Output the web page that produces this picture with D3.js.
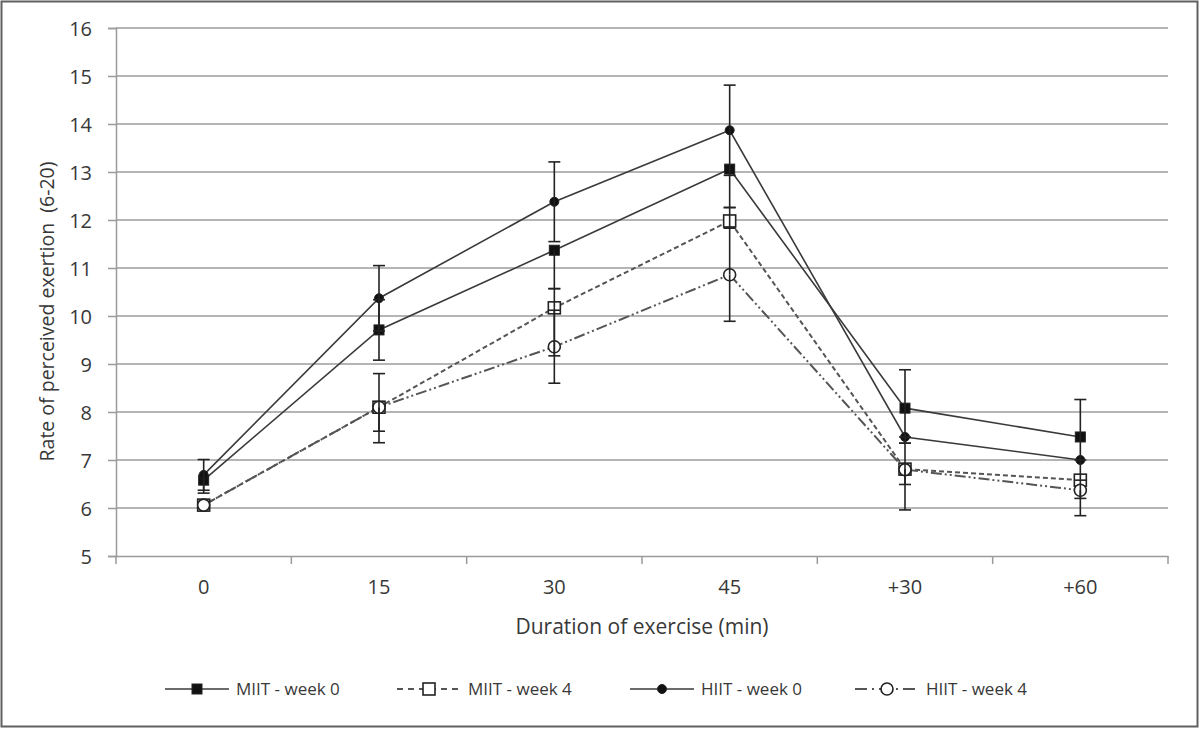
<!DOCTYPE html>
<html>
<head>
<meta charset="utf-8">
<script src="https://cdn.jsdelivr.net/npm/d3@7"></script>
<style>
  html, body { margin: 0; padding: 0; background: #fff; }
  svg { display: block; }
  text { font-family: "Open Sans", "Liberation Sans", sans-serif; fill: #383838; }
</style>
</head>
<body>
<svg id="chart" width="1200" height="729"></svg>
<script>
// ---- data ----
const categories = ["0", "15", "30", "45", "+30", "+60"];
const yTicks = [5, 6, 7, 8, 9, 10, 11, 12, 13, 14, 15, 16];
const seriesNames = ["MIIT - week 0", "MIIT - week 4", "HIIT - week 0", "HIIT - week 4"];

const miitW0 = [6.58, 9.71, 11.37, 13.06, 8.08, 7.48];
const miitW0Up = [0, 0.63, 0, 0, 0.8, 0.78];
const miitW0Down = [0.27, 0.63, 0.8, 0.8, 0.6, 0.48];

const miitW4 = [6.06, 8.1, 10.17, 11.98, 6.81, 6.58];
const miitW4Up = [0, 0, 0.4, 0.28, 0, 0];
const miitW4Down = [0, 0.5, 1.0, 0.15, 0.32, 0.38];

const hiitW0 = [6.69, 10.37, 12.38, 13.87, 7.48, 7.0];
const hiitW0Up = [0.32, 0.68, 0.83, 0.94, 0, 0];
const hiitW0Down = [0.32, 0.68, 0.83, 0.94, 0.13, 0.42];

const hiitW4 = [6.06, 8.1, 9.36, 10.86, 6.8, 6.37];
const hiitW4Up = [0, 0.7, 0.76, 0.97, 0.55, 0];
const hiitW4Down = [0, 0.74, 0.76, 0.97, 0.84, 0.53];

const series = [
  { name: seriesNames[0], values: miitW0, up: miitW0Up, down: miitW0Down, dash: null, legendDash: null, marker: "square", filled: true, color: "#3a3a3a", width: 1.6 },
  { name: seriesNames[1], values: miitW4, up: miitW4Up, down: miitW4Down, dash: "5,3", legendDash: "6,5", marker: "square", filled: false, color: "#555", width: 2 },
  { name: seriesNames[2], values: hiitW0, up: hiitW0Up, down: hiitW0Down, dash: null, legendDash: null, marker: "circle", filled: true, color: "#3a3a3a", width: 1.6 },
  { name: seriesNames[3], values: hiitW4, up: hiitW4Up, down: hiitW4Down, dash: "11,3,2,3,2,3", legendDash: "12,5,2,5", marker: "circle", filled: false, color: "#555", width: 2 }
];

// ---- layout ----
const svg = d3.select("#chart");
const plot = { left: 116, right: 1168, top: 28, bottom: 556 };

svg.append("rect").attr("x", 1.5).attr("y", 1.5).attr("width", 1196).attr("height", 725)
  .attr("fill", "#fff").attr("stroke", "#606060").attr("stroke-width", 2);

const x = d3.scaleBand().domain(categories).range([plot.left, plot.right]).paddingInner(0).paddingOuter(0);
const cx = c => x(c) + x.bandwidth() / 2;
const y = d3.scaleLinear().domain([5, 16]).range([plot.bottom, plot.top]);

// gridlines
svg.append("g").selectAll("line").data(yTicks.filter(t => t > 5)).join("line")
  .attr("x1", plot.left).attr("x2", plot.right)
  .attr("y1", d => y(d)).attr("y2", d => y(d))
  .attr("stroke", "#b5b5b5").attr("stroke-width", 1.8);

// y axis
const yAxis = d3.axisLeft(y).tickValues(yTicks).tickSize(8).tickPadding(16).tickFormat(d3.format("d"));
const gy = svg.append("g").attr("transform", `translate(${plot.left},0)`).call(yAxis);
gy.select(".domain").attr("stroke", "#9a9a9a").attr("stroke-width", 1.5);
gy.selectAll(".tick line").attr("stroke", "#9a9a9a").attr("stroke-width", 1.5);
gy.selectAll(".tick text").style("font-size", "20px").attr("fill", "#383838").attr("dy", "0.35em");

// x axis
const xAxis = d3.axisBottom(x).tickSize(0).tickPadding(24);
const gx = svg.append("g").attr("transform", `translate(0,${plot.bottom})`).call(xAxis);
gx.select(".domain").attr("stroke", "#9a9a9a").attr("stroke-width", 1.5);
gx.selectAll(".tick text").style("font-size", "20px").attr("fill", "#383838");
// boundary tick marks
const bounds = categories.map(c => x(c)).concat([plot.right]);
svg.append("g").selectAll("line").data(bounds).join("line")
  .attr("x1", d => d).attr("x2", d => d)
  .attr("y1", plot.bottom).attr("y2", plot.bottom + 8)
  .attr("stroke", "#9a9a9a").attr("stroke-width", 1.5);

// axis titles
svg.append("text").attr("x", 642).attr("y", 634)
  .attr("text-anchor", "middle").style("font-size", "21px").text("Duration of exercise (min)");
svg.append("text").attr("transform", `translate(54,${(163 + 460) / 2}) rotate(-90)`)
  .attr("text-anchor", "middle").style("font-size", "19.5px").style("white-space", "pre")
  .text("Rate of perceived exertion  (6-20)");

// lines
const line = d3.line().x((d, i) => cx(categories[i])).y(d => y(d));
series.forEach(s => {
  svg.append("path").datum(s.values).attr("d", line)
    .attr("fill", "none").attr("stroke", s.color).attr("stroke-width", s.width)
    .attr("stroke-dasharray", s.dash);
});

function drawMarker(g, s, px, py) {
  if (s.marker === "square") {
    const sz = s.filled ? 10 : 12;
    g.append("rect").attr("x", px - sz / 2).attr("y", py - sz / 2).attr("width", sz).attr("height", sz)
      .attr("fill", s.filled ? "#111" : "#fff").attr("stroke", "#222").attr("stroke-width", s.filled ? 1 : 1.6);
  } else {
    const r = s.filled ? 4.5 : 6;
    g.append("circle").attr("cx", px).attr("cy", py).attr("r", r)
      .attr("fill", s.filled ? "#111" : "#fff").attr("stroke", "#222").attr("stroke-width", s.filled ? 1 : 1.6);
  }
}

// markers
series.forEach(s => {
  const g = svg.append("g");
  s.values.forEach((v, i) => drawMarker(g, s, cx(categories[i]), y(v)));
});

// error bars
const eg = svg.append("g").attr("stroke", "#222").attr("stroke-width", 1.6);
series.forEach(s => {
  s.values.forEach((v, i) => {
    const px = cx(categories[i]);
    if (s.up[i] > 0) {
      eg.append("line").attr("x1", px).attr("x2", px).attr("y1", y(v)).attr("y2", y(v + s.up[i]));
      eg.append("line").attr("x1", px - 6).attr("x2", px + 6).attr("y1", y(v + s.up[i])).attr("y2", y(v + s.up[i]));
    }
    if (s.down[i] > 0) {
      eg.append("line").attr("x1", px).attr("x2", px).attr("y1", y(v)).attr("y2", y(v - s.down[i]));
      eg.append("line").attr("x1", px - 6).attr("x2", px + 6).attr("y1", y(v - s.down[i])).attr("y2", y(v - s.down[i]));
    }
  });
});

// legend
const legendX = [165, 397, 630, 855];
const legendY = 689;
series.forEach((s, i) => {
  const g = svg.append("g");
  const x0 = legendX[i];
  g.append("line").attr("x1", x0).attr("x2", x0 + 64).attr("y1", legendY).attr("y2", legendY)
    .attr("stroke", s.color).attr("stroke-width", s.width).attr("stroke-dasharray", s.legendDash);
  drawMarker(g, s, x0 + 32, legendY);
  g.append("text").attr("x", x0 + 71).attr("y", legendY).attr("dy", "0.35em")
    .style("font-size", "17px").text(s.name);
});
</script>
</body>
</html>
